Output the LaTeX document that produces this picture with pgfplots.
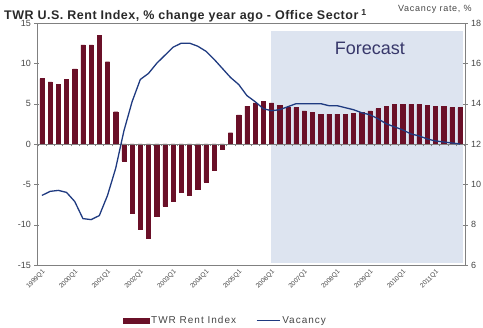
\documentclass[border=0pt]{standalone}
\usepackage{pgfplots}
\pgfplotsset{compat=1.18}
\usepackage{pgfplotstable}
\usepackage{fontspec}
\setmainfont{Liberation Sans}
\definecolor{barred}{HTML}{6A1028}
\definecolor{vacblue}{HTML}{1F3A80}
\definecolor{fcfill}{HTML}{DDE4F0}
\definecolor{framegray}{HTML}{808080}
\definecolor{textgray}{HTML}{454545}
\pgfplotstableread{
idx rent vac
0 8.1 9.45
1 7.7 9.65
2 7.4 9.7
3 8.0 9.6
4 9.3 9.15
5 12.3 8.3
6 12.3 8.25
7 13.5 8.45
8 10.2 9.45
9 4.0 10.8
10 -2.1 12.65
11 -8.6 14.1
12 -10.6 15.2
13 -11.7 15.5
14 -8.9 16.0
15 -7.7 16.4
16 -7.1 16.8
17 -6.0 17.0
18 -6.4 17.0
19 -5.6 16.85
20 -4.7 16.6
21 -3.3 16.2
22 -0.7 15.75
23 1.4 15.3
24 3.6 14.95
25 4.7 14.4
26 5.1 14.1
27 5.3 13.75
28 5.1 13.65
29 4.8 13.7
30 4.5 13.85
31 4.5 14.0
32 4.1 14.0
33 3.9 14.0
34 3.7 14.0
35 3.7 13.9
36 3.7 13.9
37 3.7 13.8
38 3.8 13.7
39 3.9 13.55
40 4.1 13.45
41 4.4 13.25
42 4.65 13.0
43 4.9 12.85
44 4.9 12.7
45 4.9 12.5
46 4.9 12.4
47 4.8 12.25
48 4.7 12.15
49 4.65 12.1
50 4.5 12.05
51 4.5 12.0
}\datatable
\begin{document}
\begin{tikzpicture}
\path[use as bounding box] (0,0) rectangle (483pt,328pt);
\pgfplotsset{
  common/.style={
    at={(37pt,63pt)}, anchor=south west,
    scale only axis, width=428pt, height=242pt,
    xmin=-0.6, xmax=51.6,
  }
}
\begin{axis}[
  common,
  ymin=-15, ymax=15,
  axis line style={framegray},
  ytick={-15,-10,...,15},
  xtick={0,4,...,48},
  xticklabels={1999Q1,2000Q1,2001Q1,2002Q1,2003Q1,2004Q1,2005Q1,2006Q1,2007Q1,2008Q1,2009Q1,2010Q1,2011Q1},
  xtick style={draw=none},
  x tick label style={rotate=45, anchor=north east, font=\fontsize{6.5}{7}\selectfont, text=textgray, inner sep=1pt},
  ytick style={framegray},
  tick align=center,
  major tick length=5pt,
  y tick label style={font=\fontsize{9}{10}\selectfont, text=textgray},
  /pgf/number format/assume math mode=true,
  legend style={at={(0.44,-0.23)}, anchor=center, draw=none, fill=none, legend columns=2,
    font=\fontsize{10}{11}\selectfont\addfontfeature{LetterSpace=10}, text=textgray,
    /tikz/every even column/.append style={column sep=18pt}},
]
\fill[fcfill] (axis cs:27.9,-14.7) rectangle (axis cs:51.35,14.05);
\node[text=textgray!80!blue, font=\fontsize{18}{19}\selectfont] at (axis cs:40.0,11.9) {Forecast};
\addplot[ybar, bar shift=0pt, bar width=4.2pt, fill=barred, draw=barred,
  legend image code/.code={\fill[barred] (0pt,-2.5pt) rectangle (26pt,2.5pt);}]
  table[x=idx, y=rent]{\datatable};
\addlegendentry{TWR Rent Index}
\addlegendimage{vacblue, line width=1.2pt, legend image code/.code={\draw[vacblue, line width=1.2pt] (0pt,0pt) -- (23pt,0pt);}}
\addlegendentry{Vacancy}
\end{axis}
\begin{axis}[
  common,
  ymin=-15, ymax=15,
  axis x line=middle, axis y line=none,
  axis line style={framegray, -},
  xtick={-0.5,0.5,...,51.5},
  xticklabels={},
  xtick style={framegray},
  tick align=outside,
  major tick length=2.5pt,
]
\end{axis}
\begin{axis}[
  common,
  ymin=6, ymax=18,
  axis y line*=right, axis x line=none,
  axis line style={framegray},
  ytick={6,8,...,18},
  ytick style={framegray},
  tick align=center,
  major tick length=5pt,
  y tick label style={font=\fontsize{9}{10}\selectfont, text=textgray},
  /pgf/number format/assume math mode=true,
]
\addplot[vacblue, line width=1.3pt, line join=round] table[x=idx, y=vac]{\datatable};
\end{axis}
\node[anchor=base west, font=\bfseries\fontsize{12.5}{13}\selectfont\addfontfeature{LetterSpace=4}, text=textgray!60!black, inner sep=0pt] at (4pt,308pt) {TWR U.S. Rent Index, \% change year ago - Office Sector\textsuperscript{\,\,1}};
\node[anchor=base west, font=\fontsize{9}{10}\selectfont\addfontfeature{LetterSpace=8}, text=textgray, inner sep=0pt] at (398pt,316pt) {Vacancy rate, \%};
\end{tikzpicture}
\end{document}
